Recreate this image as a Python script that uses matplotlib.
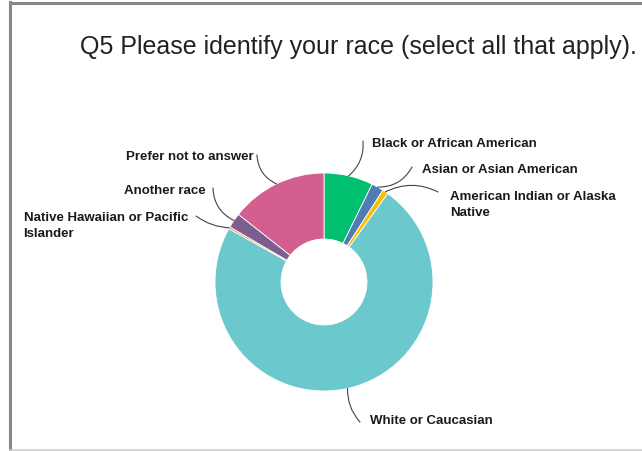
import numpy as np
import matplotlib.pyplot as plt
from matplotlib.lines import Line2D

title = 'Q5 Please identify your race (select all that apply).'
labels = ['Black or African American', 'Asian or Asian American',
          'American Indian or Alaska\nNative', 'White or Caucasian',
          'Native Hawaiian or Pacific\nIslander', 'Another race',
          'Prefer not to answer']
values = [7.25, 1.8, 0.85, 72.9, 0.3, 2.2, 14.3]
colors = ['#00BF6F', '#507CB6', '#F9BE00', '#6BC8CD', '#FF8B4F', '#7D5E90', '#D25F90']

W, H = 642, 451
fig = plt.figure(figsize=(W / 100, H / 100), dpi=100)
ax = fig.add_axes([0, 0, 1, 1])

cx, cy, r = 324, H - 282, 109
wedges, _ = ax.pie(values, colors=colors, startangle=90, counterclock=False,
                   center=(cx, cy), radius=r,
                   wedgeprops=dict(width=66, edgecolor='white', linewidth=0.6))

# pie resets the limits, so set pixel-like coordinates afterwards
ax.set_xlim(0, W)
ax.set_ylim(0, H)
ax.set_aspect('equal')
ax.axis('off')

# frame of the screenshot
fig.add_artist(Line2D([10.5 / W, 10.5 / W], [0, 1 - 2 / H], color='#888888', lw=2.2))
fig.add_artist(Line2D([10 / W, 1], [1 - 3 / H, 1 - 3 / H], color='#888888', lw=2.2))
fig.add_artist(Line2D([10 / W, 1], [1.5 / H, 1.5 / H], color='#cccccc', lw=1.2))

ax.text(358, H - 47, title, ha='center', va='center', fontsize=18,
        family='Liberation Sans', color='#222222')

# label placement (text anchor, leader end, curvature)
text_pos = [
    (372, 144, 'left', (363, 141), -0.25),
    (422, 170, 'left', (412, 167), -0.3),
    (450, 205, 'left', (438, 192), 0.25),
    (370, 421, 'left', (360, 422), -0.2),
    (188, 226, 'right', (196, 216), 0.15),
    (206, 191, 'right', (213, 188), 0.3),
    (254, 157, 'right', (257, 155), 0.3),
]

for w, lab, (tx, ty, ha, end, rad) in zip(wedges, labels, text_pos):
    ang = np.deg2rad((w.theta1 + w.theta2) / 2)
    px, py = cx + r * np.cos(ang), cy + r * np.sin(ang)
    ax.annotate('', xy=(px, py), xytext=(end[0], H - end[1]),
                arrowprops=dict(arrowstyle='-', color='#444444', lw=0.8,
                                connectionstyle=f'arc3,rad={rad}',
                                shrinkA=0, shrinkB=0))
    ax.text(tx, H - ty, lab, ha=ha, va='center', fontsize=9.5,
            fontweight='bold', family='Liberation Sans', color='#1a1a1a',
            linespacing=1.45, multialignment='left')

fig.savefig('out.png', dpi=100)
